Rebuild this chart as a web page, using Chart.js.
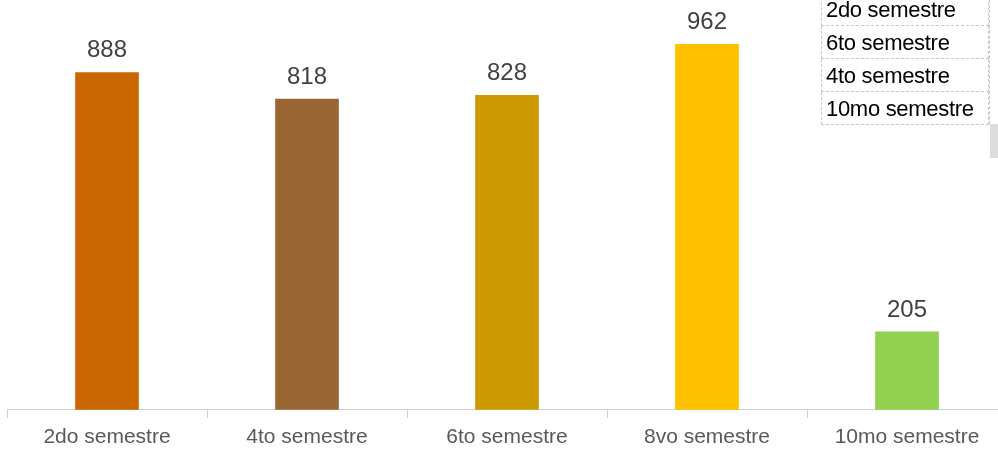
<!DOCTYPE html>
<html>
<head>
<meta charset="utf-8">
<script src="https://cdn.jsdelivr.net/npm/chart.js@4"></script>
<style>
  html, body { margin: 0; padding: 0; background: #fff; overflow: hidden; }
  #wrap { position: relative; width: 1008px; height: 452px; }
  #dd { position: absolute; left: 821px; top: -8px; width: 168px;
        font-family: "Liberation Sans", Arial, sans-serif; font-size: 22px; color: #000;
        letter-spacing: -0.3px; }
  #dd div { height: 32px; line-height: 33px; padding-left: 4px; border: 1px dashed #c8c8c8;
            border-top: none; box-sizing: content-box; }
  #dd div:first-child { border-top: 1px dashed #c8c8c8; }
  #dd-rail { position: absolute; left: 989px; top: 0; width: 1px; height: 124px; border-left: 1px dashed #c8c8c8; }
  #dd-thumb { position: absolute; left: 990px; top: 124px; width: 8px; height: 34px; background: #dcdcdc; }
</style>
</head>
<body>
<div id="wrap">
  <canvas id="chart" width="1008" height="452"></canvas>
  <div id="dd"></div>
  <div id="dd-rail"></div>
  <div id="dd-thumb"></div>
</div>
<script>
// Estudiantes por semestre
const categories = ["2do semestre", "4to semestre", "6to semestre", "8vo semestre", "10mo semestre"];
const values     = [888, 818, 828, 962, 205];
const barColors  = ["#cc6600", "#996633", "#cc9900", "#ffc000", "#92d050"];
// lista desplegable que quedó abierta en la captura
const dropdownItems = ["2do semestre", "6to semestre", "4to semestre", "10mo semestre"];

document.getElementById("dd").innerHTML = dropdownItems.map(t => `<div>${t}</div>`).join("");

const valueLabels = {
  id: "valueLabels",
  afterDatasetsDraw(chart) {
    const ctx = chart.ctx;
    const meta = chart.getDatasetMeta(0);
    ctx.save();
    ctx.font = '24px "Liberation Sans", Arial, sans-serif';
    ctx.fillStyle = "#404040";
    ctx.textAlign = "center";
    ctx.textBaseline = "bottom";
    meta.data.forEach((bar, i) => {
      ctx.fillText(String(values[i]), bar.x, bar.y - 10);
    });
    ctx.restore();
  },
};

new Chart(document.getElementById("chart"), {
  type: "bar",
  data: {
    labels: categories,
    datasets: [{ data: values, backgroundColor: barColors, borderWidth: 0,
                 barThickness: 63 }],
  },
  options: {
    responsive: false,
    animation: false,
    layout: { padding: { left: 7, right: 1, top: 30, bottom: -5 } },
    plugins: { legend: { display: false }, tooltip: { enabled: false } },
    scales: {
      x: {
        offset: true,
        grid: { offset: true, drawOnChartArea: false, color: "#d0d0d0", tickLength: 8, lineWidth: 1 },
        border: { color: "#d0d0d0" },
        ticks: { color: "#595959", font: { family: '"Liberation Sans", Arial, sans-serif', size: 21 },
                 padding: 7, maxRotation: 0 },
      },
      y: { display: false, min: 0, max: 1000 },
    },
  },
  plugins: [valueLabels],
});
</script>
</body>
</html>
